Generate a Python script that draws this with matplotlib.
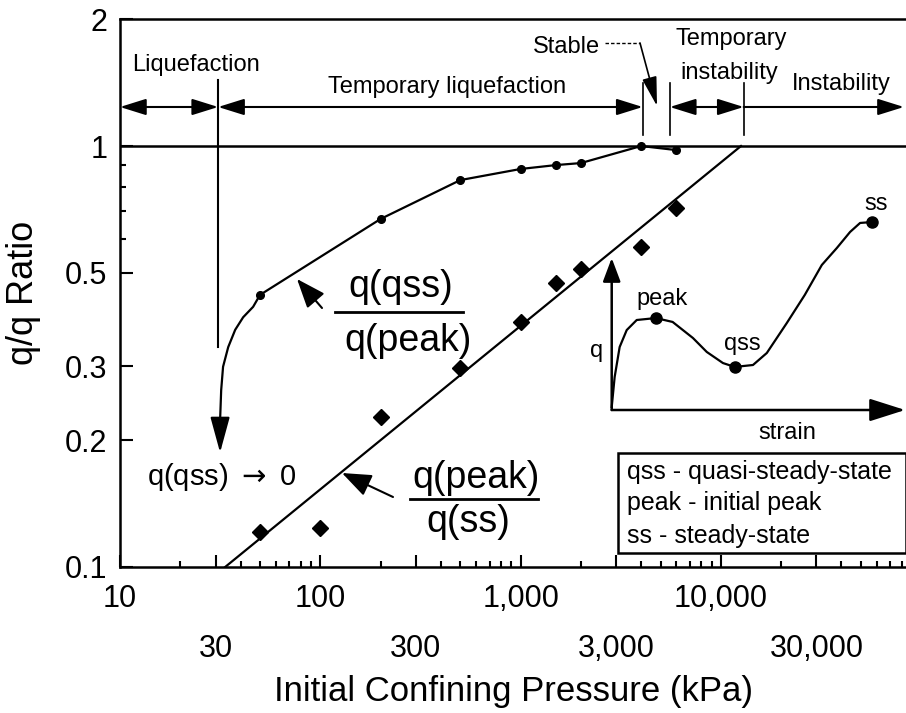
import matplotlib
matplotlib.use("Agg")
import matplotlib.pyplot as plt
from matplotlib.ticker import FixedLocator, NullFormatter
from matplotlib.lines import Line2D
from matplotlib.patches import Rectangle

plt.rcParams['font.family'] = ['Liberation Sans', 'DejaVu Sans']

# q(qss)/q(peak) measured points (circles)
pressure_qss = [50, 200, 500, 1000, 1500, 2000, 4000, 6000]
ratio_qss = [0.443, 0.671, 0.830, 0.882, 0.901, 0.911, 1.0, 0.978]
# hand-drawn hook of that curve toward q(qss) -> 0
hook_x = [31.6, 32.0, 32.7, 34.7, 37.6, 41.2, 46.2]
hook_y = [0.223, 0.263, 0.299, 0.333, 0.366, 0.392, 0.415]

# q(peak)/q(ss) measured points (diamonds) and fitted line
pressure_ss = [50, 100, 200, 500, 1000, 1500, 2000, 4000, 6000]
ratio_ss = [0.121, 0.124, 0.227, 0.297, 0.382, 0.473, 0.510, 0.575, 0.713]
fit_x = [33.5, 12600]
fit_y = [0.1, 1.0]

# behaviour regions along the top
region_edges = [10, 30.9, 4070, 5560, 13000, 82000]

x_ticks = [10, 30, 100, 300, 1000, 3000, 10000, 30000]
x_labels = ['10', '30', '100', '300', '1,000', '3,000', '10,000', '30,000']
y_ticks = [0.1, 0.2, 0.3, 0.5, 1, 2]
y_labels = ['0.1', '0.2', '0.3', '0.5', '1', '2']

# inset sketch: q vs strain
strain = [0.0, 0.010, 0.027, 0.051, 0.085, 0.150, 0.207, 0.276, 0.323, 0.378,
          0.418, 0.480, 0.527, 0.595, 0.656, 0.714, 0.765, 0.810, 0.844, 0.884]
q_curve = [0.02, 0.220, 0.420, 0.533, 0.600, 0.613, 0.587, 0.480, 0.387, 0.313,
           0.287, 0.300, 0.380, 0.580, 0.767, 0.967, 1.080, 1.187, 1.247, 1.253]
key_strain = [0.150, 0.418, 0.884]
key_q = [0.613, 0.287, 1.253]

W, H = 906, 713


def fpx(x, y):
    # reference pixel position -> figure fraction
    return (x / W, 1 - y / H)


fig = plt.figure(figsize=(W / 100, H / 100), dpi=100)
ax = fig.add_axes([120 / W, 1 - 567 / H, 786 / W, (567 - 19.3) / H])
ax.set_xscale('log')
ax.set_yscale('log')
ax.set_xlim(10, 84000)
ax.set_ylim(0.1, 2)

for s in ['left', 'bottom', 'top']:
    ax.spines[s].set_linewidth(1.8)
ax.spines['right'].set_visible(False)

ax.xaxis.set_major_locator(FixedLocator(x_ticks))
ax.xaxis.set_ticklabels(x_labels)
minor_x = [m * 10 ** e for e in range(1, 5) for m in (2, 4, 5, 6, 7, 8, 9)]
ax.xaxis.set_minor_locator(FixedLocator(minor_x))
ax.xaxis.set_minor_formatter(NullFormatter())
ax.yaxis.set_major_locator(FixedLocator(y_ticks))
ax.yaxis.set_ticklabels(y_labels)
ax.yaxis.set_minor_locator(FixedLocator([0.6, 0.7, 0.8, 0.9]))
ax.yaxis.set_minor_formatter(NullFormatter())
ax.tick_params(which='both', direction='in', width=1.5, top=False, right=False)
ax.tick_params(which='major', length=9, labelsize=22)
ax.tick_params(which='minor', length=4.5)
ax.tick_params(axis='y', which='major', pad=9)
for i, t in enumerate(ax.xaxis.get_major_ticks()):
    t.set_pad(48 if i % 2 else 12)

ax.set_xlabel('Initial Confining Pressure (kPa)', fontsize=25, labelpad=8)
ax.set_ylabel('q/q Ratio', fontsize=26)
ax.yaxis.set_label_coords(-0.1, 0.5)

# data
ax.axhline(1, color='k', lw=1.8)
ax.plot(hook_x + pressure_qss, hook_y + ratio_qss, 'k-', lw=1.6)
ax.plot(pressure_qss, ratio_qss, 'ko', ms=5.5)
ax.plot(fit_x, fit_y, 'k-', lw=1.6)
ax.plot(pressure_ss, ratio_ss, 'kD', ms=8)
ax.annotate('', xy=(hook_x[0], 0.187), xytext=(hook_x[0], hook_y[0] + 0.001),
            arrowprops=dict(arrowstyle='-|>,head_length=1.1,head_width=0.3',
                            color='k', lw=1.6, mutation_scale=20,
                            shrinkA=0, shrinkB=0))

# region arrows along the top
y_arr = 1.238
head = '<|-|>,head_length=0.8,head_width=0.25'
for x1, x2 in [(region_edges[0], region_edges[1]),
               (region_edges[1], region_edges[2]),
               (region_edges[3], region_edges[4])]:
    ax.annotate('', xy=(x2, y_arr), xytext=(x1, y_arr),
                arrowprops=dict(arrowstyle=head, color='k', lw=1.5,
                                mutation_scale=20, shrinkA=0, shrinkB=0))
ax.annotate('', xy=(region_edges[5], y_arr), xytext=(region_edges[4], y_arr),
            arrowprops=dict(arrowstyle='-|>,head_length=0.8,head_width=0.25',
                            color='k', lw=1.5, mutation_scale=20,
                            shrinkA=0, shrinkB=0))
ax.plot([region_edges[1]] * 2, [0.333, 1.435], 'k-', lw=1.5)
for xe in region_edges[2:5]:
    ax.plot([xe, xe], [1.062, 1.41], 'k-', lw=1.2)

txt = dict(fontsize=17, va='center', ha='left')
fig.text(*fpx(132, 65), 'Liquefaction', **txt)
fig.text(*fpx(328, 87), 'Temporary liquefaction', **txt)
fig.text(*fpx(533, 47), 'Stable', **txt)
fig.text(*fpx(675, 39), 'Temporary', **txt)
fig.text(*fpx(680, 73), 'instability', **txt)
fig.text(*fpx(792, 84), 'Instability', **txt)
fig.add_artist(Line2D(*zip(fpx(605, 43), fpx(640, 43)), color='k', lw=1,
                      ls=(0, (2.5, 1.5))))
ax.annotate('', xy=fpx(657, 106), xytext=fpx(640, 43),
            xycoords='figure fraction', textcoords='figure fraction',
            arrowprops=dict(arrowstyle='-|>,head_length=1.0,head_width=0.25',
                            color='k', lw=1.2, mutation_scale=18,
                            shrinkA=0, shrinkB=0))

# fraction labels
big = dict(fontsize=27, ha='center', va='center')
fig.text(*fpx(401, 287), 'q(qss)', **big)
fig.add_artist(Line2D(*zip(fpx(335, 312), fpx(463, 312)), color='k', lw=2))
fig.text(*fpx(408, 341), 'q(peak)', **big)
fig.text(*fpx(476, 478), 'q(peak)', **big)
fig.add_artist(Line2D(*zip(fpx(410, 499), fpx(538, 499)), color='k', lw=2))
fig.text(*fpx(468, 522), 'q(ss)', **big)
arr = dict(arrowstyle='-|>,head_length=0.9,head_width=0.35', color='k',
           lw=1.5, mutation_scale=20, shrinkA=0, shrinkB=0)
ax.annotate('', xy=fpx(297, 279), xytext=fpx(322, 308),
            xycoords='figure fraction', textcoords='figure fraction',
            arrowprops=arr)
ax.annotate('', xy=fpx(342, 473), xytext=fpx(393, 497),
            xycoords='figure fraction', textcoords='figure fraction',
            arrowprops=arr)
fig.text(*fpx(147, 477), r'q(qss) $\rightarrow$ 0', fontsize=21,
         va='center', ha='left')

# inset sketch
axi = fig.add_axes([597 / W, 1 - 425 / H, 309 / W, 225 / H])
axi.set_xlim(-0.05, 1.0)
axi.set_ylim(-0.1, 1.4)
axi.axis('off')
axi.plot(strain, q_curve, 'k-', lw=1.6)
axi.plot(key_strain, key_q, 'ko', ms=8)
axi.annotate('', xy=(0, 1.013), xytext=(0, 0),
             arrowprops=dict(arrowstyle='-|>,head_length=0.8,head_width=0.3',
                             color='k', lw=1.8, mutation_scale=18,
                             shrinkA=0, shrinkB=0))
axi.annotate('', xy=(0.997, 0), xytext=(0, 0),
             arrowprops=dict(arrowstyle='-|>,head_length=1.1,head_width=0.35',
                             color='k', lw=1.8, mutation_scale=20,
                             shrinkA=0, shrinkB=0))
small = dict(fontsize=17, ha='center', va='center')
fig.text(*fpx(662, 299), 'peak', **small)
fig.text(*fpx(742, 344), 'qss', **small)
fig.text(*fpx(876, 204), 'ss', **small)
fig.text(*fpx(597, 351), 'q', **small)
fig.text(*fpx(787, 433), 'strain', **small)

# key box
fig.add_artist(Rectangle(fpx(618, 553), 288 / W, 100 / H, fill=False,
                         ec='k', lw=1.8, transform=fig.transFigure))
key = dict(fontsize=18, ha='left', va='center')
fig.text(*fpx(627, 472), 'qss - quasi-steady-state', **key)
fig.text(*fpx(627, 503), 'peak - initial peak', **key)
fig.text(*fpx(627, 536), 'ss - steady-state', **key)

fig.savefig('out.png', dpi=100)
